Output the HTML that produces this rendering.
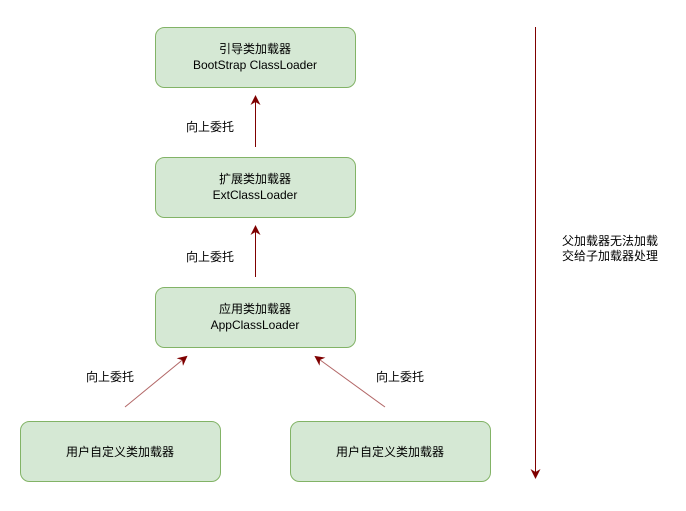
<!DOCTYPE html>
<html><head><meta charset="utf-8"><style>
body{margin:0;background:#fff;}
svg text{font-family:"Liberation Sans","Noto Sans CJK SC",sans-serif;font-size:12px;fill:#000;}
</style></head><body>
<svg width="686" height="506" viewBox="0 0 686 506" xmlns="http://www.w3.org/2000/svg">
<defs>
<marker id="a" markerWidth="10" markerHeight="10" refX="8" refY="5" orient="auto" markerUnits="userSpaceOnUse">
<path d="M0,0 L10,5 L0,10 L3,5 Z" fill="#7f0000"/>
</marker>
</defs>
<g fill="#d5e8d4" stroke="#82b366">
<rect x="155.5" y="27.5" width="200" height="60" rx="9"/>
<rect x="155.5" y="157.5" width="200" height="60" rx="9"/>
<rect x="155.5" y="287.5" width="200" height="60" rx="9"/>
<rect x="20.5" y="421.5" width="200" height="60" rx="9"/>
<rect x="290.5" y="421.5" width="200" height="60" rx="9"/>
</g>
<g text-anchor="middle">
<text x="255" y="53">引导类加载器</text>
<text x="255" y="69">BootStrap ClassLoader</text>
<text x="255" y="183">扩展类加载器</text>
<text x="255" y="199">ExtClassLoader</text>
<text x="255" y="313">应用类加载器</text>
<text x="255" y="329">AppClassLoader</text>
<text x="120" y="456">用户自定义类加载器</text>
<text x="390" y="456">用户自定义类加载器</text>
<text x="210" y="131">向上委托</text>
<text x="210" y="261">向上委托</text>
<text x="110" y="381">向上委托</text>
<text x="400" y="381">向上委托</text>
<text x="610" y="245">父加载器无法加载</text>
<text x="610" y="260">交给子加载器处理</text>
</g>
<g stroke="#7f0000" stroke-width="1" fill="none">
<line x1="255.5" y1="147" x2="255.5" y2="97" marker-end="url(#a)"/>
<line x1="255.5" y1="277" x2="255.5" y2="227" marker-end="url(#a)"/>
<line x1="535.5" y1="27" x2="535.5" y2="477" marker-end="url(#a)"/>
<line x1="125" y1="407" x2="186" y2="357" stroke-opacity="0.6" marker-end="url(#a)"/>
<line x1="385" y1="407" x2="316" y2="357" stroke-opacity="0.6" marker-end="url(#a)"/>
</g>
</svg>
</body></html>
